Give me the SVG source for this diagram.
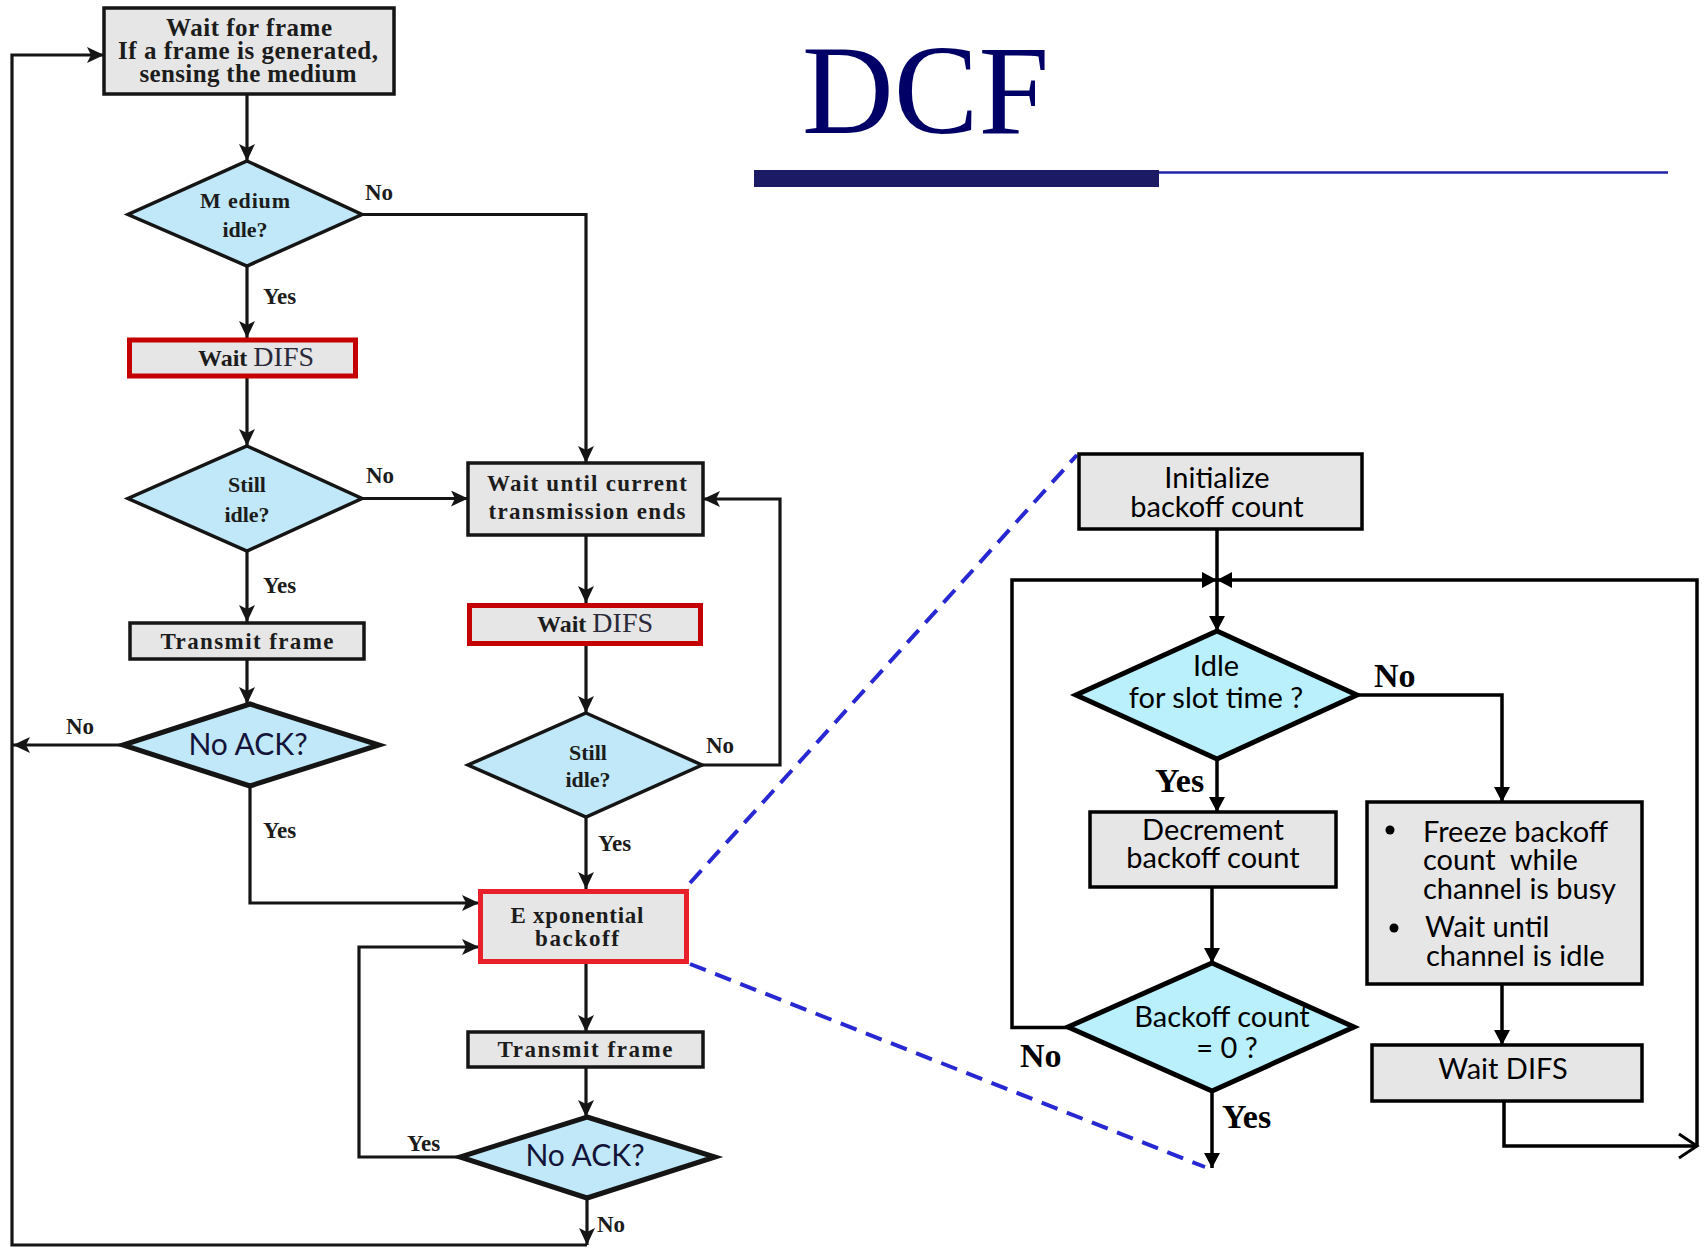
<svg xmlns="http://www.w3.org/2000/svg" width="1707" height="1248" viewBox="0 0 1707 1248">
<defs>
<style>
.box{fill:#e6e6e6;stroke:#151515;stroke-width:3.5}
.red{fill:#e6e6e6;stroke:#c40000;stroke-width:5}
.red2{fill:#e6e6e6;stroke:#e8202a;stroke-width:5}
.dia{fill:#c0e8f8;stroke:#151515;stroke-width:3.5}
.diaB{fill:#c0e8f8;stroke:#151515;stroke-width:5}
.rbox{fill:#e6e6e6;stroke:#000;stroke-width:3.5}
.rdia{fill:#b9f0fc;stroke:#000;stroke-width:5}
.st{font-family:"Liberation Serif","Times New Roman",serif;font-weight:bold;fill:#1c1c1c;text-anchor:middle}
.lbl{font-family:"Liberation Serif","Times New Roman",serif;font-weight:bold;font-size:23px;fill:#1c1c1c}
.ack{font-family:Lato,"Open Sans",sans-serif;font-size:30px;fill:#14143a;text-anchor:middle}
.sans{font-family:Lato,"Open Sans",sans-serif;font-size:29px;fill:#000}
.mid{text-anchor:middle}
.big{font-family:"Liberation Serif","Times New Roman",serif;font-weight:bold;font-size:34px;fill:#000}
.ln{fill:none;stroke:#151515;stroke-width:3.2}
.ln2{fill:none;stroke:#000;stroke-width:3.5}
.dash{fill:none;stroke:#2828d2;stroke-width:4;stroke-dasharray:17 10}
</style>
<marker id="ah" markerUnits="userSpaceOnUse" markerWidth="18" markerHeight="16" refX="17" refY="8" orient="auto"><path d="M0,0 L17,8 L0,16 L4,8 z" fill="#151515"/></marker>
<marker id="ah2" markerUnits="userSpaceOnUse" markerWidth="16" markerHeight="16" refX="15" refY="8" orient="auto"><path d="M0,0 L15,8 L0,16 z" fill="#000"/></marker>
<marker id="open" markerUnits="userSpaceOnUse" markerWidth="22" markerHeight="28" refX="19" refY="14" orient="auto"><path d="M1,2 L19,14 L1,26" fill="none" stroke="#000" stroke-width="3"/></marker>
</defs>
<rect width="1707" height="1248" fill="#fff"/>

<!-- title and underline -->
<g id="title">
<text x="802" y="133" font-family="'Liberation Serif','Times New Roman',serif" font-size="127" fill="#000066">DCF</text>
<rect x="754" y="170" width="405" height="17" fill="#1c1a64"/>
<line x1="1159" y1="172.5" x2="1668" y2="172.5" stroke="#2222a8" stroke-width="2.5"/>
</g>

<!-- zoom guide lines -->
<g id="zoom-guides">
<path class="dash" d="M690,883 L1077,455"/>
<path class="dash" d="M690,964 L1205,1167"/>
</g>

<!-- connectors -->
<g id="connectors">
<path class="ln" d="M247,95 V161" marker-end="url(#ah)"/>
<path class="ln" d="M247,266 V338" marker-end="url(#ah)"/>
<path class="ln" d="M247,378 V446" marker-end="url(#ah)"/>
<path class="ln" d="M247,551 V622" marker-end="url(#ah)"/>
<path class="ln" d="M247,659 V704" marker-end="url(#ah)"/>
<path class="ln" d="M362,214.5 H586 V463" marker-end="url(#ah)"/>
<path class="ln" d="M362,498.5 H468" marker-end="url(#ah)"/>
<path class="ln" d="M123,745 H13" marker-end="url(#ah)"/>
<path class="ln" d="M250,786 V903 H479" marker-end="url(#ah)"/>
<path class="ln" d="M586,535 V603" marker-end="url(#ah)"/>
<path class="ln" d="M586,646 V713" marker-end="url(#ah)"/>
<path class="ln" d="M702,765 H780 V499 H703" marker-end="url(#ah)"/>
<path class="ln" d="M586,817 V889" marker-end="url(#ah)"/>
<path class="ln" d="M586,964 V1032" marker-end="url(#ah)"/>
<path class="ln" d="M586,1067 V1117" marker-end="url(#ah)"/>
<path class="ln" d="M587,1198 V1245" marker-end="url(#ah)"/>
<path class="ln" d="M587,1245 H12 V55 H104" marker-end="url(#ah)"/>
<path class="ln" d="M460,1157 H359 V947 H479" marker-end="url(#ah)"/>

<path class="ln2" d="M1217,529 V631" marker-end="url(#ah2)"/>
<path class="ln2" d="M1068,1027.5 H1012 V580 H1217" marker-end="url(#ah2)"/>
<path class="ln2" d="M1697,1146 V580 H1217" marker-end="url(#ah2)"/>
<path class="ln2" d="M1357,695 H1502 V802" marker-end="url(#ah2)"/>
<path class="ln2" d="M1217,759 V812" marker-end="url(#ah2)"/>
<path class="ln2" d="M1212,887 V963" marker-end="url(#ah2)"/>
<path class="ln2" d="M1212,1091 V1168" marker-end="url(#ah2)"/>
<path class="ln2" d="M1502,984 V1045" marker-end="url(#ah2)"/>
<path class="ln2" d="M1504,1101 V1146 H1697" marker-end="url(#open)"/>
</g>

<!-- left flow: station side -->
<g id="wait-frame">
<rect class="box" x="104" y="8" width="290" height="86" stroke-width="4"/>
<text class="st" font-size="25" x="249" y="36" textLength="166">Wait for frame</text>
<text class="st" font-size="25" x="248" y="59" textLength="260">If a frame  is generated,</text>
<text class="st" font-size="25" x="248" y="82" textLength="217">sensing the medium</text>
</g>
<g id="medium-idle">
<polygon class="dia" points="247,161 362,214.5 247,266 128,214.5"/>
<text class="st" font-size="22" x="245" y="208" textLength="90">M edium</text>
<text class="st" font-size="22" x="245" y="237">idle?</text>
</g>
<g id="wait-difs-1">
<rect class="red" x="129.5" y="340" width="226" height="36"/>
<text x="198" y="366" font-family="'Liberation Serif','Times New Roman',serif" fill="#1c1c1c"><tspan font-weight="bold" font-size="24">Wait</tspan><tspan font-size="28" fill="#2a2a3a" dx="6">DIFS</tspan></text>
</g>
<g id="still-idle-1">
<polygon class="dia" points="247,446 362,498.5 247,551 128,498.5"/>
<text class="st" font-size="22" x="247" y="492">Still</text>
<text class="st" font-size="22" x="247" y="522">idle?</text>
</g>
<g id="transmit-1">
<rect class="box" x="130" y="623" width="234" height="36"/>
<text class="st" font-size="23" x="247" y="649" textLength="173">Transmit frame</text>
</g>
<g id="no-ack-1">
<polygon class="diaB" points="250,704 379,745 250,786 123,745"/>
<text class="ack" x="248" y="755">No ACK?</text>
</g>
<g id="wait-until">
<rect class="box" x="468" y="463" width="235" height="72"/>
<text class="st" font-size="23" x="587" y="491" textLength="200">Wait until current</text>
<text class="st" font-size="23" x="587" y="519" textLength="197">transmission ends</text>
</g>
<g id="wait-difs-2">
<rect class="red" x="469.5" y="605.5" width="231" height="38"/>
<text x="537" y="632" font-family="'Liberation Serif','Times New Roman',serif" fill="#1c1c1c"><tspan font-weight="bold" font-size="24">Wait</tspan><tspan font-size="28" fill="#2a2a3a" dx="6">DIFS</tspan></text>
</g>
<g id="still-idle-2">
<polygon class="dia" points="586,713 702,765 586,817 468,765"/>
<text class="st" font-size="22" x="588" y="760">Still</text>
<text class="st" font-size="22" x="588" y="787">idle?</text>
</g>
<g id="exp-backoff">
<rect class="red2" x="480.5" y="891.5" width="206" height="70"/>
<text class="st" font-size="23" x="577" y="923" textLength="133">E xponential</text>
<text class="st" font-size="23" x="577" y="946" textLength="84">backoff</text>
</g>
<g id="transmit-2">
<rect class="box" x="468" y="1032" width="235" height="35"/>
<text class="st" font-size="23" x="585" y="1057" textLength="175">Transmit frame</text>
</g>
<g id="no-ack-2">
<polygon class="diaB" points="587,1117 715,1157 587,1198 460,1157"/>
<text class="ack" x="585" y="1166">No ACK?</text>
</g>

<!-- branch labels, left flow -->
<g id="labels-left">
<text class="lbl" x="365" y="200">No</text>
<text class="lbl" x="263" y="304">Yes</text>
<text class="lbl" x="366" y="483">No</text>
<text class="lbl" x="263" y="593">Yes</text>
<text class="lbl" x="66" y="734">No</text>
<text class="lbl" x="263" y="838">Yes</text>
<text class="lbl" x="706" y="753">No</text>
<text class="lbl" x="598" y="851">Yes</text>
<text class="lbl" x="407" y="1151">Yes</text>
<text class="lbl" x="597" y="1232">No</text>
</g>

<!-- right flow: backoff detail -->
<g id="init-backoff">
<rect class="rbox" x="1079" y="454" width="283" height="75"/>
<text class="sans mid" x="1217" y="488">Initialize</text>
<text class="sans mid" x="1217" y="517">backoff count</text>
</g>
<g id="idle-slot">
<polygon class="rdia" points="1217,631 1357,695 1217,759 1076,695"/>
<text class="sans mid" x="1216" y="676">Idle</text>
<text class="sans mid" x="1216" y="708">for slot time ?</text>
</g>
<g id="decrement">
<rect class="rbox" x="1090" y="812" width="246" height="75"/>
<text class="sans mid" x="1213" y="840">Decrement</text>
<text class="sans mid" x="1213" y="868">backoff count</text>
</g>
<g id="backoff-zero">
<polygon class="rdia" points="1212,963 1354,1027 1212,1091 1068,1027"/>
<text class="sans mid" x="1222" y="1027">Backoff count</text>
<text class="sans mid" x="1227" y="1058">= 0 ?</text>
</g>
<g id="freeze">
<rect class="rbox" x="1367" y="802" width="275" height="182"/>
<circle cx="1390" cy="830" r="4.5" fill="#000"/>
<circle cx="1394" cy="928" r="4.5" fill="#000"/>
<text class="sans" x="1423" y="842">Freeze backoff</text>
<text class="sans" x="1423" y="870" xml:space="preserve">count  while</text>
<text class="sans" x="1423" y="899">channel is busy</text>
<text class="sans" x="1425" y="937">Wait until</text>
<text class="sans" x="1426" y="966">channel is idle</text>
</g>
<g id="wait-difs-3">
<rect class="rbox" x="1372" y="1045" width="270" height="56"/>
<text class="sans mid" x="1503" y="1079">Wait DIFS</text>
</g>

<!-- branch labels, right flow -->
<g id="labels-right">
<text class="big" x="1374" y="687">No</text>
<text class="big" x="1155" y="792">Yes</text>
<text class="big" x="1020" y="1067">No</text>
<text class="big" x="1222" y="1128">Yes</text>
</g>
</svg>
